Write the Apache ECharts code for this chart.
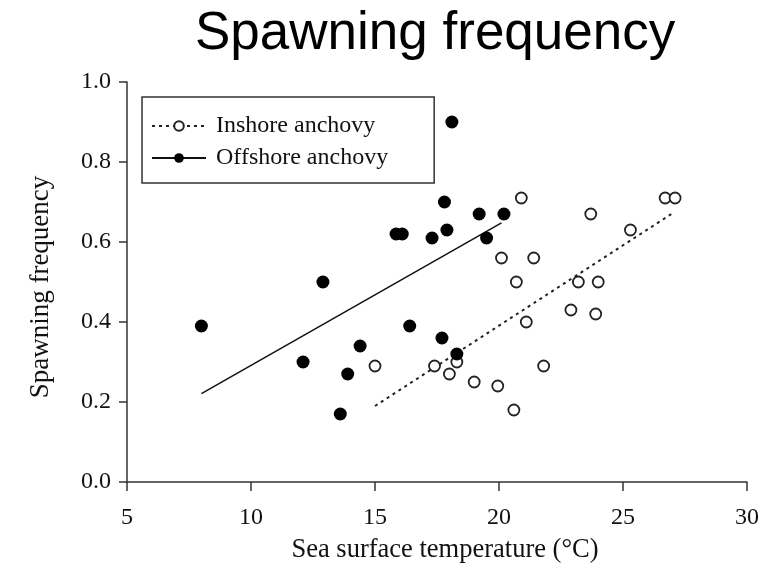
<!DOCTYPE html>
<html>
<head>
<meta charset="utf-8">
<script src="https://cdn.jsdelivr.net/npm/echarts@6/dist/echarts.min.js"></script>
<style>html,body{margin:0;padding:0;background:#fff;}#c{width:784px;height:570px;}</style>
</head>
<body>
<div id="c"></div>
<script>
// Sea surface temperature (°C) and spawning frequency
var inshoreX = [15.0, 17.4, 18.0, 18.3, 19.0, 19.95, 20.1, 20.6, 20.7, 20.9, 21.1, 21.4, 21.8, 22.9, 23.2, 23.7, 23.9, 24.0, 25.3, 26.7, 27.1];
var inshoreY = [0.29, 0.29, 0.27, 0.30, 0.25, 0.24, 0.56, 0.18, 0.50, 0.71, 0.40, 0.56, 0.29, 0.43, 0.50, 0.67, 0.42, 0.50, 0.63, 0.71, 0.71];
var offshoreX = [8.0, 12.1, 12.9, 13.6, 13.9, 14.4, 15.85, 16.1, 16.4, 17.3, 17.7, 17.8, 17.9, 18.1, 18.3, 19.2, 19.5, 20.2];
var offshoreY = [0.39, 0.30, 0.50, 0.17, 0.27, 0.34, 0.62, 0.62, 0.39, 0.61, 0.36, 0.70, 0.63, 0.90, 0.32, 0.67, 0.61, 0.67];
// fitted regression lines (endpoints)
var inshoreFitX = [15.0, 27.0];
var inshoreFitY = [0.19, 0.672];
var offshoreFitX = [8.0, 20.1];
var offshoreFitY = [0.221, 0.648];
var xTicks = [5, 10, 15, 20, 25, 30];
var yTicks = [0.0, 0.2, 0.4, 0.6, 0.8, 1.0];
var names = ['Inshore anchovy', 'Offshore anchovy'];

function zip(a, b) { return a.map(function (v, i) { return [v, b[i]]; }); }

var serif = '"Liberation Serif", "Times New Roman", serif';
var axisCol = '#333';
var chart = echarts.init(document.getElementById('c'));
chart.setOption({
  animation: false,
  backgroundColor: '#fff',
  title: {
    text: 'Spawning frequency',
    left: 195, top: 8, padding: 0,
    textStyle: { fontFamily: '"Liberation Sans", Arial, sans-serif', fontSize: 53, fontWeight: 'normal', color: '#000' }
  },
  legend: {
    data: names,
    orient: 'vertical',
    left: 142, top: 97,
    itemWidth: 54, itemHeight: 12, itemGap: 8,
    padding: [17, 46, 13, 9],
    borderColor: '#333', borderWidth: 1.5,
    textStyle: { fontFamily: serif, fontSize: 24, color: '#111', padding: [0, 0, 0, 5] }
  },
  grid: { left: 127, right: 37, top: 82, bottom: 88 },
  xAxis: {
    type: 'value', min: xTicks[0], max: xTicks[xTicks.length - 1], interval: 5,
    name: 'Sea surface temperature (°C)', nameLocation: 'middle', nameGap: 55,
    nameTextStyle: { fontFamily: serif, fontSize: 26.5, color: '#111', padding: [0, 0, 0, 16] },
    axisLine: { show: true, onZero: false, lineStyle: { color: axisCol, width: 1.5 } },
    axisTick: { show: true, length: 9, lineStyle: { color: axisCol, width: 1.5 } },
    axisLabel: { fontFamily: serif, fontSize: 24, color: '#111', margin: 24 },
    splitLine: { show: false }
  },
  yAxis: {
    type: 'value', min: yTicks[0], max: yTicks[yTicks.length - 1], interval: 0.2,
    name: 'Spawning frequency', nameLocation: 'middle', nameGap: 73,
    nameTextStyle: { fontFamily: serif, fontSize: 27, color: '#111', padding: [0, 10, 0, 0] },
    axisLine: { show: true, onZero: false, lineStyle: { color: axisCol, width: 1.5 } },
    axisTick: { show: true, length: 8, lineStyle: { color: axisCol, width: 1.5 } },
    axisLabel: { fontFamily: serif, fontSize: 24, color: '#111', margin: 16, formatter: function (v) { return v.toFixed(1); } },
    splitLine: { show: false }
  },
  series: [
    {
      name: names[0], type: 'line', data: zip(inshoreFitX, inshoreFitY),
      symbol: 'emptyCircle', symbolSize: 9, showSymbol: false,
      lineStyle: { color: '#222', width: 2, type: [3, 4] },
      itemStyle: { color: '#222', borderColor: '#222', borderWidth: 1.5 },
      z: 1
    },
    {
      name: names[1], type: 'line', data: zip(offshoreFitX, offshoreFitY),
      symbol: 'circle', symbolSize: 12, showSymbol: false,
      lineStyle: { color: '#111', width: 1.5, type: 'solid' },
      itemStyle: { color: '#000' },
      z: 1
    },
    {
      name: names[0], type: 'scatter', data: zip(inshoreX, inshoreY),
      symbol: 'circle', symbolSize: 11,
      itemStyle: { color: '#fff', borderColor: '#222', borderWidth: 1.8, opacity: 1 },
      z: 3
    },
    {
      name: names[1], type: 'scatter', data: zip(offshoreX, offshoreY),
      symbol: 'circle', symbolSize: 13,
      itemStyle: { color: '#000', opacity: 1 },
      z: 4
    }
  ]
});
</script>
</body>
</html>
